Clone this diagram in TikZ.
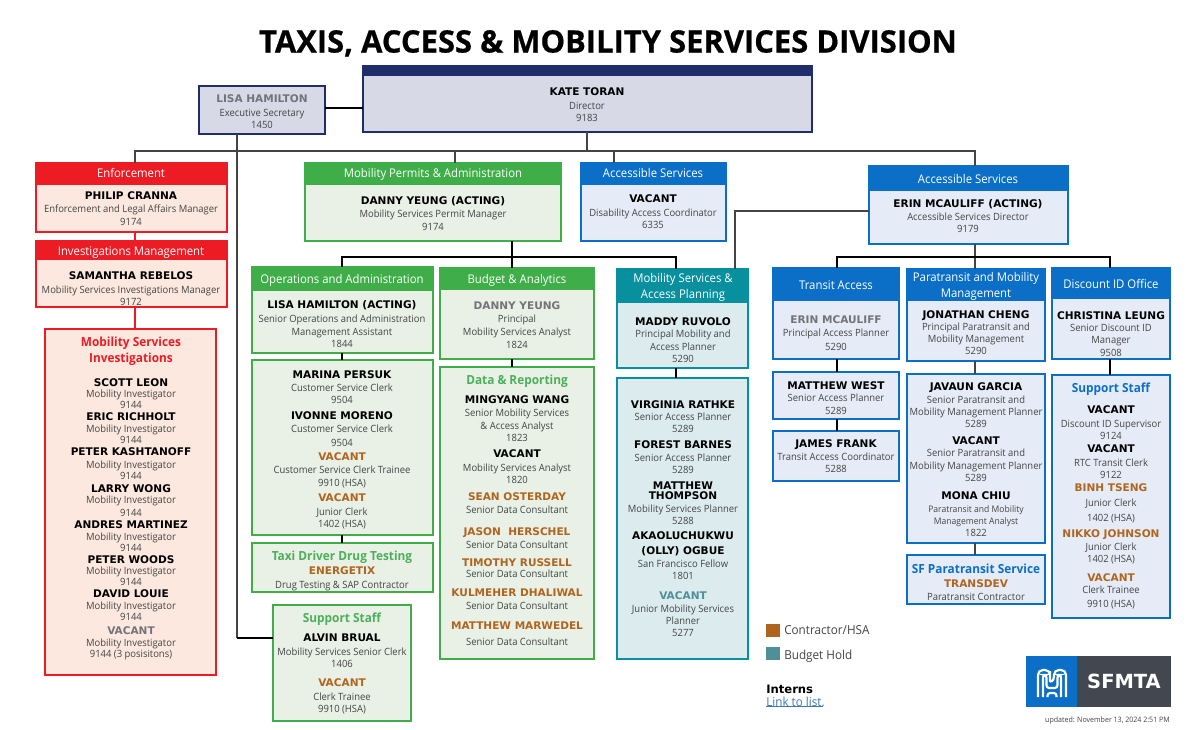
\documentclass[tikz,border=0pt]{standalone}
\usepackage{fontspec}
\setmainfont{Open Sans}[FakeStretch=0.945]
\newfontfamily\namefont{DejaVu Sans}[BoldFont={DejaVu Sans Bold}]
\newfontfamily\titlefont{Open Sans}[BoldFeatures={FakeBold=0.6}]
\definecolor{navy}{HTML}{1F2D6B}
\definecolor{navyfill}{HTML}{D8D9E6}
\definecolor{redline}{HTML}{ED1C24}
\definecolor{redfill}{HTML}{FDE8DF}
\definecolor{greenline}{HTML}{3FAE49}
\definecolor{greenfill}{HTML}{E9F0E6}
\definecolor{greentext}{HTML}{4CAF5A}
\definecolor{tealline}{HTML}{08909F}
\definecolor{tealfill}{HTML}{DCECEE}
\definecolor{blueline}{HTML}{0B6FC8}
\definecolor{bluefill}{HTML}{E6ECF7}
\definecolor{brownc}{HTML}{B0651F}
\definecolor{holdc}{HTML}{4F8F98}
\definecolor{grayname}{HTML}{737378}
\definecolor{bodyc}{HTML}{444444}
\definecolor{conn}{HTML}{444444}
\definecolor{logodark}{HTML}{43474F}
\definecolor{linkc}{HTML}{3F78B5}
\newcount\txtno
\def\cx{0}
\newcommand{\bx}[6]{\node[#1,anchor=north west,minimum width={(#5-#3)*0.75pt},minimum height={(#6-#4)*0.75pt}] (#2) at (#3,#4) {};}
\newcommand{\txtnode}[3]{\global\advance\txtno by 1 \node[txt,#1] (t\the\txtno) at (\cx,#2+1) {#3};}
\newcommand{\Nm}[2]{\txtnode{nmstyle}{#1}{#2}}
\newcommand{\Nc}[3]{\txtnode{nmstyle,text=#1}{#2}{#3}}
\newcommand{\Ti}[2]{\txtnode{tistyle}{#1}{#2}}
\newcommand{\Hd}[2]{\txtnode{hdstyle}{#1}{#2}}
\newcommand{\Sc}[3]{\txtnode{scstyle,text=#1}{#2}{#3}}
\begin{document}
\begin{tikzpicture}[x=0.75pt,y=-0.75pt,
  txt/.style={inner sep=0pt,outer sep=0pt,anchor=mid,align=center},
  nmstyle/.style={font=\namefont\bfseries\fontsize{7.9}{9.5}\selectfont,text=black},
  tistyle/.style={font=\fontsize{7.5}{9}\selectfont,text=bodyc},
  hdstyle/.style={font=\fontsize{9}{11}\selectfont,text=white},
  scstyle/.style={font=\bfseries\fontsize{9.4}{11}\selectfont},
  boxb/.style={draw,line width=1.9pt,inner sep=0pt,outer sep=0pt},
  navyb/.style={boxb,draw=navy,fill=navyfill},
  redb/.style={boxb,draw=redline,fill=redfill},
  greenb/.style={boxb,draw=greenline,fill=greenfill},
  tealb/.style={boxb,draw=tealline,fill=tealfill},
  blueb/.style={boxb,draw=blueline,fill=bluefill},
  navyh/.style={boxb,draw=navy,fill=navy},
  redh/.style={boxb,draw=redline,fill=redline},
  greenh/.style={boxb,draw=greenline,fill=greenline},
  tealh/.style={boxb,draw=tealline,fill=tealline},
  blueh/.style={boxb,draw=blueline,fill=blueline},
  link/.style={draw=conn,line width=1pt},
  linkdk/.style={draw=black,line width=1.1pt},
  swatch/.style={inner sep=0pt,outer sep=0pt,anchor=north west,minimum width=10.5pt,minimum height=10pt}
]
\useasboundingbox (0,0) rectangle (1200,729);
\fill[white] (0,0) rectangle (1200,729);
% title
\node[inner sep=0pt,anchor=mid,font=\titlefont\bfseries\fontsize{23.2}{28}\selectfont] (title) at (608,49) {TAXIS, ACCESS \& MOBILITY SERVICES DIVISION};
% boxes
\bx{navyb}{kate}{363}{66}{812}{132}
\bx{navyh}{kateh}{363}{66}{812}{75}
\bx{navyb}{lisa}{199}{86}{325}{134}
% enforcement
\bx{redb}{enf}{36}{163}{227}{232}
\bx{redh}{enfh}{36}{163}{227}{184}
\bx{redb}{inv}{36}{241}{227}{307}
\bx{redh}{invh}{36}{241}{227}{259}
\bx{redb}{msi}{45}{329}{216}{675}
% permits
\bx{greenb}{per}{305}{163}{561}{241}
\bx{greenh}{perh}{305}{163}{561}{184}
\bx{greenb}{ops}{252}{267}{433}{353}
\bx{greenh}{opsh}{252}{267}{433}{290}
\bx{greenb}{opsb}{252}{360}{433}{535}
\bx{greenb}{taxi}{252}{543}{433}{592}
\bx{greenb}{sup}{273}{605}{411}{721}
\bx{greenb}{bud}{440}{268}{594}{359}
\bx{greenh}{budh}{440}{268}{594}{289}
\bx{greenb}{data}{440}{367}{594}{659}
% planning
\bx{tealb}{pla}{617}{269}{748}{368}
\bx{tealh}{plah}{617}{269}{748}{302}
\bx{tealb}{plab}{617}{378}{748}{659}
% accessible
\bx{blueb}{acc}{581}{163}{726}{241}
\bx{blueh}{acch}{581}{163}{726}{184}
\bx{blueb}{erin}{869}{166}{1068}{244}
\bx{blueh}{erinh}{869}{166}{1068}{190}
\bx{blueb}{tra}{773}{268}{899}{359}
\bx{blueh}{trah}{773}{268}{899}{300}
\bx{blueb}{mw}{773}{372}{899}{419}
\bx{blueb}{jf}{773}{431}{899}{481}
\bx{blueb}{par}{907}{269}{1045}{361}
\bx{blueh}{parh}{907}{269}{1045}{300}
\bx{blueb}{parb}{907}{374}{1045}{543}
\bx{blueb}{sfp}{907}{555}{1045}{604}
\bx{blueb}{dis}{1052}{268}{1170}{359}
\bx{blueh}{dish}{1052}{268}{1170}{298}
\bx{blueb}{disb}{1052}{375}{1170}{618}
% connector helper coordinates
\coordinate (trunkL) at (135,151);
\coordinate (trunkR) at (975,151);
\coordinate (xlisa) at (237,151);
\coordinate (xkate) at (587,151);
\coordinate (xper) at (455,151);
\coordinate (xacc) at (614,151);
\coordinate (xops) at (342,257);
\coordinate (xbud) at (512,257);
\coordinate (xpla) at (676,257);
\coordinate (xpla2) at (735,211);
\coordinate (xtra) at (837,257);
\coordinate (xpar) at (975,257);
\coordinate (xdis) at (1110,257);
\coordinate (suptap) at (237,638);
% connectors
\draw[linkdk] (lisa.east |- 0,108) -- (kate.west |- 0,108);
\draw[link,line width=1.2pt] (lisa.south -| xlisa) -- (suptap);
\draw[linkdk] (suptap) -- (sup.west |- suptap);
\draw[link] (kate.south -| xkate) -- (xkate);
\draw[link] (enfh.north -| trunkL) -- (trunkL) -- (trunkR) -- (erinh.north -| trunkR);
\draw[link] (xper) -- (perh.north -| xper);
\draw[link] (xacc) -- (acch.north -| xacc);
\draw[redline,line width=1pt] (enf.south -| trunkL) -- (invh.north -| trunkL);
\draw[redline,line width=1pt] (inv.south -| trunkL) -- (msi.north -| trunkL);
\draw[linkdk] (per.south -| xbud) -- (xbud);
\draw[linkdk] (opsh.north -| xops) -- (xops) -- (xpla) -- (plah.north -| xpla);
\draw[linkdk] (xbud) -- (budh.north -| xbud);
\draw[link] (erinh.west |- xpla2) -- (xpla2) -- (plah.north -| xpla2);
\draw[link] (erin.south -| xpar) -- (parh.north -| xpar);
\draw[linkdk] (trah.north -| xtra) -- (xtra) -- (xdis) -- (dish.north -| xdis);
\draw[linkdk] (ops.south -| xops) -- (opsb.north -| xops);
\draw[linkdk] (opsb.south -| xops) -- (taxi.north -| xops);
\draw[linkdk] (bud.south -| xbud) -- (data.north -| xbud);
\draw[linkdk] (pla.south -| xpla) -- (plab.north -| xpla);
\draw[linkdk] (tra.south -| xtra) -- (mw.north -| xtra);
\draw[linkdk] (mw.south -| xtra) -- (jf.north -| xtra);
\draw[link,line width=1.2pt] (par.south -| xpar) -- (parb.north -| xpar);
\draw[link,line width=1.2pt] (parb.south -| xpar) -- (sfp.north -| xpar);
\draw[linkdk] (dis.south -| xdis) -- (disb.north -| xdis);
% texts
\def\cx{587}\Nm{91}{KATE TORAN}\Ti{105}{Director}\Ti{117}{9183}
\def\cx{262}\Nc{grayname}{98}{LISA HAMILTON}\Ti{112}{Executive Secretary}\Ti{124}{1450}
\def\cx{131}\Hd{173}{Enforcement}\Nm{195}{PHILIP CRANNA}\Ti{208}{Enforcement and Legal Affairs Manager}\Ti{221}{9174}
\Hd{251}{Investigations Management}\Nm{275}{SAMANTHA REBELOS}\Ti{289}{Mobility Services Investigations Manager}\Ti{301}{9172}
\Sc{redline}{342}{Mobility Services}\Sc{redline}{358}{Investigations}
\Nm{382}{SCOTT LEON}\Ti{393}{Mobility Investigator}\Ti{404}{9144}
\Nm{416}{ERIC RICHHOLT}\Ti{428}{Mobility Investigator}\Ti{439}{9144}
\Nm{451}{PETER KASHTANOFF}\Ti{464}{Mobility Investigator}\Ti{475}{9144}
\Nm{488}{LARRY WONG}\Ti{499}{Mobility Investigator}\Ti{512}{9144}
\Nm{524}{ANDRES MARTINEZ}\Ti{536}{Mobility Investigator}\Ti{547}{9144}
\Nm{559}{PETER WOODS}\Ti{570}{Mobility Investigator}\Ti{581}{9144}
\Nm{593}{DAVID LOUIE}\Ti{605}{Mobility Investigator}\Ti{616}{9144}
\Nc{grayname}{630}{VACANT}\Ti{642}{Mobility Investigator}\Ti{653}{9144 (3 posisitons)}
\def\cx{433}\Hd{173}{Mobility Permits \& Administration}\Nm{200}{DANNY YEUNG (ACTING)}\Ti{213}{Mobility Services Permit Manager}\Ti{226}{9174}
\def\cx{342}\Hd{279}{Operations and Administration}\Nm{304}{LISA HAMILTON (ACTING)}\Ti{318}{Senior Operations and Administration}\Ti{331}{Management Assistant}\Ti{343}{1844}
\Nm{374}{MARINA PERSUK}\Ti{387}{Customer Service Clerk}\Ti{399}{9504}
\Nm{415}{IVONNE MORENO}\Ti{428}{Customer Service Clerk}\Ti{442}{9504}
\Nc{brownc}{456}{VACANT}\Ti{469}{Customer Service Clerk Trainee}\Ti{482}{9910 (HSA)}
\Nc{brownc}{497}{VACANT}\Ti{511}{Junior Clerk}\Ti{523}{1402 (HSA)}
\Sc{greentext}{556}{Taxi Driver Drug Testing}\Nc{brownc}{570}{ENERGETIX}\Ti{584}{Drug Testing \& SAP Contractor}
\Sc{greentext}{618}{Support Staff}\Nm{637}{ALVIN BRUAL}\Ti{651}{Mobility Services Senior Clerk}\Ti{663}{1406}
\Nc{brownc}{682}{VACANT}\Ti{696}{Clerk Trainee}\Ti{708}{9910 (HSA)}
\def\cx{517}\Hd{279}{Budget \& Analytics}\Nc{grayname}{305}{DANNY YEUNG}\Ti{318}{Principal}\Ti{331}{Mobility Services Analyst}\Ti{344}{1824}
\Sc{greentext}{380}{Data \& Reporting}
\Nm{399}{MINGYANG WANG}\Ti{412}{Senior Mobility Services}\Ti{425}{\& Access Analyst}\Ti{437}{1823}
\Nm{453}{VACANT}\Ti{467}{Mobility Services Analyst}\Ti{479}{1820}
\Nc{brownc}{496}{SEAN OSTERDAY}\Ti{509}{Senior Data Consultant}
\Nc{brownc}{531}{JASON\ \ HERSCHEL}\Ti{544}{Senior Data Consultant}
\Nc{brownc}{562}{TIMOTHY RUSSELL}\Ti{573}{Senior Data Consultant}
\Nc{brownc}{592}{KULMEHER DHALIWAL}\Ti{605}{Senior Data Consultant}
\Nc{brownc}{625}{MATTHEW MARWEDEL}\Ti{641}{Senior Data Consultant}
\def\cx{683}\Hd{278}{Mobility Services \&}\Hd{294}{Access Planning}
\Nm{321}{MADDY RUVOLO}\Ti{333}{Principal Mobility and}\Ti{346}{Access Planner}\Ti{358}{5290}
\Nm{404}{VIRGINIA RATHKE}\Ti{416}{Senior Access Planner}\Ti{428}{5289}
\Nm{444}{FOREST BARNES}\Ti{457}{Senior Access Planner}\Ti{469}{5289}
\Nm{485}{MATTHEW}\Nm{495}{THOMPSON}\Ti{508}{Mobility Services Planner}\Ti{520}{5288}
\Nm{535}{AKAOLUCHUKWU}\Nm{550}{(OLLY) OGBUE}\Ti{563}{San Francisco Fellow}\Ti{575}{1801}
\Nc{holdc}{595}{VACANT}\Ti{608}{Junior Mobility Services}\Ti{620}{Planner}\Ti{632}{5277}
\def\cx{653}\Hd{173}{Accessible Services}\Nm{198}{VACANT}\Ti{212}{Disability Access Coordinator}\Ti{224}{6335}
\def\cx{968}\Hd{179}{Accessible Services}\Nm{203}{ERIN MCAULIFF (ACTING)}\Ti{216}{Accessible Services Director}\Ti{228}{9179}
\def\cx{836}\Hd{285}{Transit Access}\Nc{grayname}{319}{ERIN MCAULIFF}\Ti{332}{Principal Access Planner}\Ti{346}{5290}
\Nm{385}{MATTHEW WEST}\Ti{397}{Senior Access Planner}\Ti{410}{5289}
\Nm{443}{JAMES FRANK}\Ti{456}{Transit Access Coordinator}\Ti{468}{5288}
\def\cx{976}\Hd{277}{Paratransit and Mobility}\Hd{293}{Management}
\Nm{314}{JONATHAN CHENG}\Ti{326}{Principal Paratransit and}\Ti{338}{Mobility Management}\Ti{350}{5290}
\Nm{386}{JAVAUN GARCIA}\Ti{399}{Senior Paratransit and}\Ti{411}{Mobility Management Planner}\Ti{423}{5289}
\Nm{440}{VACANT}\Ti{452}{Senior Paratransit and}\Ti{465}{Mobility Management Planner}\Ti{477}{5289}
\Nm{495}{MONA CHIU}\txtnode{tistyle,font=\fontsize{6.8}{8}\selectfont}{508}{Paratransit and Mobility}\txtnode{tistyle,font=\fontsize{6.8}{8}\selectfont}{520}{Management Analyst}\Ti{532}{1822}
\Sc{blueline}{569}{SF Paratransit Service}\Nc{brownc}{583}{TRANSDEV}\Ti{596}{Paratransit Contractor}
\def\cx{1111}\Hd{284}{Discount ID Office}\Nm{315}{CHRISTINA LEUNG}\Ti{327}{Senior Discount ID}\Ti{339}{Manager}\Ti{352}{9508}
\Sc{blueline}{388}{Support Staff}
\Nm{409}{VACANT}\Ti{423}{Discount ID Supervisor}\Ti{435}{9124}
\Nm{448}{VACANT}\Ti{462}{RTC Transit Clerk}\Ti{474}{9122}
\Nc{brownc}{487}{BINH TSENG}\Ti{502}{Junior Clerk}\Ti{517}{1402 (HSA)}
\Nc{brownc}{533}{NIKKO JOHNSON}\Ti{546}{Junior Clerk}\Ti{558}{1402 (HSA)}
\Nc{brownc}{577}{VACANT}\Ti{589}{Clerk Trainee}\Ti{603}{9910 (HSA)}
% legend
\node[swatch,fill=brownc] (sw1) at (766,624) {};
\node[swatch,fill=holdc] (sw2) at (766,647) {};
\node[inner sep=0pt,anchor=mid west,font=\fontsize{9.3}{11}\selectfont,text=bodyc] (lg1) at (784,631) {Contractor/HSA};
\node[inner sep=0pt,anchor=mid west,font=\fontsize{9.3}{11}\selectfont,text=bodyc] (lg2) at (784,656) {Budget Hold};
\node[inner sep=0pt,anchor=mid west,font=\namefont\bfseries\fontsize{8.7}{11}\selectfont] (intern) at (766,690) {Interns};
\node[inner sep=0pt,anchor=mid west,font=\fontsize{9.3}{11}\selectfont,text=linkc] (lnk) at (766,703) {Link to list.};
\draw[linkc,line width=0.5pt] (lnk.south west) ++(0,-0.5) -- ++(57,0);
% logo
\bx{draw=none,fill=logodark,inner sep=0pt,outer sep=0pt}{logor}{1026}{656}{1171}{707}
\bx{draw=none,fill=blueline,inner sep=0pt,outer sep=0pt}{logol}{1026}{656}{1077}{707}
\begin{scope}[white,line width=1.6pt]
\draw[rounded corners=3.6pt] (1038,697) -- (1038,670) -- (1050,670) -- (1050,676) [sharp corners] .. controls (1050,682) and (1054,682) .. (1054,676) [rounded corners=3.6pt] -- (1054,670) -- (1066,670) -- (1066,697);
\draw[rounded corners=2pt] (1043,697) -- (1043,675) -- (1046.5,675) -- (1046.5,688) -- (1057.5,688) -- (1057.5,675) -- (1061,675) -- (1061,697);
\draw[rounded corners=2pt] (1047.5,697) -- (1047.5,693) -- (1056.5,693) -- (1056.5,697);
\end{scope}
\node[inner sep=0pt,anchor=mid,text=white,font=\namefont\bfseries\fontsize{14.6}{18}\selectfont] (logot) at (1124,685) {SFMTA};
\node[inner sep=0pt,anchor=mid east,font=\fontsize{5.6}{7}\selectfont,text=bodyc] (upd) at (1170,719) {updated: November 13, 2024 2:51 PM};
\end{tikzpicture}
\end{document}
